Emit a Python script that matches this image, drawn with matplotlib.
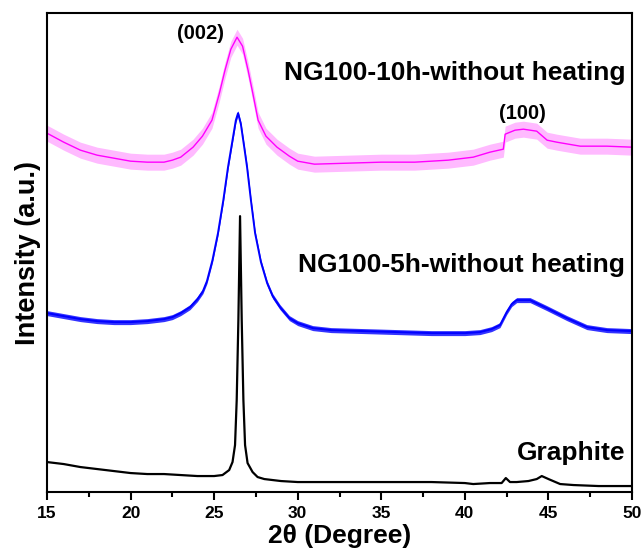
import matplotlib.pyplot as plt

plt.rcParams['font.family'] = ['Liberation Sans', 'DejaVu Sans']
plt.rcParams['font.weight'] = 'bold'

# 2theta (deg) and intensity (a.u., offset stacked)
x_graphite = [15, 16, 17, 18, 19, 20, 21, 22, 23, 24, 25, 25.5, 25.9, 26.1, 26.25, 26.35,
              26.45, 26.55, 26.65, 26.75, 26.85, 27.0, 27.3, 27.6, 28, 29, 30, 32, 34, 36,
              38, 40, 40.5, 41.5, 42.2, 42.45, 42.7, 43.1, 43.8, 44.3, 44.6, 45.0, 45.7,
              46.5, 48, 50]
y_graphite = [30, 28, 25, 23, 21, 19, 18, 18, 17, 16, 16, 17, 22, 30, 47, 92,
              172, 276, 172, 92, 47, 29, 20, 15, 13, 11, 10, 10, 10, 10,
              10, 9, 8, 9, 9, 14, 10, 10, 11, 13, 16, 13, 8,
              7, 6, 6]

x_5h = [15, 16, 17, 18, 19, 20, 21, 22, 22.5, 23, 23.56, 24.0, 24.33, 24.57, 24.9, 25.23,
        25.55, 25.83, 26.1, 26.3, 26.43, 26.6, 26.8, 26.97, 27.2, 27.45, 27.8, 28.17,
        28.5, 28.94, 29.5, 30, 30.9, 32, 34, 36, 38, 40, 40.9, 41.6, 42.1, 42.5, 42.8,
        43.1, 43.9, 44.9, 46.1, 47.3, 48.5, 50]
y_5h = [179, 176, 173, 171, 170, 170, 171, 173, 175, 179, 185, 193, 201, 211, 232, 259,
        292, 325, 352, 372, 379, 368, 345, 325, 292, 259, 230, 209,
        196, 185, 174, 169, 164, 162, 161, 160, 159, 159, 160, 163, 167, 180, 188,
        192, 192, 184, 174, 165, 162, 161]

x_10h = [15, 16, 17, 18, 19, 20, 21, 22, 22.5, 23, 23.74, 24.3, 24.87, 25.3, 25.65, 26.0,
         26.37, 26.7, 27.03, 27.3, 27.63, 28.1, 28.76, 29.5, 30, 31, 33, 35, 37, 39,
         40.5, 41.5, 42.3, 42.41, 43, 43.5, 44.3, 44.92, 45.5, 46.9, 48.5, 50]
y_10h = [359, 350, 342, 337, 334, 331, 330, 330, 332, 335, 345, 356, 372, 398, 422, 443,
         455, 446, 422, 400, 372, 356, 345, 336, 331, 328, 329, 330, 330, 332,
         335, 340, 343, 358, 362, 363, 361, 352, 350, 346, 346, 345]

fig = plt.figure(figsize=(6.41, 5.51), dpi=100)
ax = fig.add_axes([0.0733, 0.107, 0.9127, 0.869])

# noisy traces: light band around the line
ax.fill_between(x_10h, [v - 8 for v in y_10h], [v + 8 for v in y_10h],
                color='#ff66ff', alpha=0.45, lw=0)
ax.plot(x_10h, y_10h, color='#ff00ff', lw=1.0)
ax.fill_between(x_5h, [v - 2.5 for v in y_5h], [v + 2.5 for v in y_5h],
                color='#0000ff', alpha=0.8, lw=0)
ax.plot(x_5h, y_5h, color='#0000ff', lw=1.4)
ax.plot(x_graphite, y_graphite, color='black', lw=1.6)

ax.set_xlim(15, 50)
ax.set_ylim(0, 479)
ax.set_yticks([])
ax.set_xticks([15, 20, 25, 30, 35, 40, 45, 50])
ax.set_xticks([17.5, 22.5, 27.5, 32.5, 37.5, 42.5, 47.5], minor=True)
ax.tick_params(axis='x', which='major', direction='out', length=6, width=1.5,
               labelsize=12.5, pad=4)
ax.tick_params(axis='x', which='minor', direction='out', length=3.5, width=1.5)
for s in ax.spines.values():
    s.set_linewidth(1.5)

ax.set_xlabel('2θ (Degree)', fontsize=19, fontweight='bold', labelpad=2)
ax.set_ylabel('Intensity (a.u.)', fontsize=19.5, fontweight='bold', labelpad=4)

ax.text(24.16, 459, '(002)', fontsize=14.5, fontweight='bold', ha='center', va='center')
ax.text(43.43, 379, '(100)', fontsize=14.5, fontweight='bold', ha='center', va='center')
ax.text(49.6, 419, 'NG100-10h-without heating', fontsize=19, fontweight='bold',
        ha='right', va='center')
ax.text(49.6, 227, 'NG100-5h-without heating', fontsize=19, fontweight='bold',
        ha='right', va='center')
ax.text(49.6, 39, 'Graphite', fontsize=19, fontweight='bold', ha='right', va='center')

fig.savefig('out.png', dpi=100)
